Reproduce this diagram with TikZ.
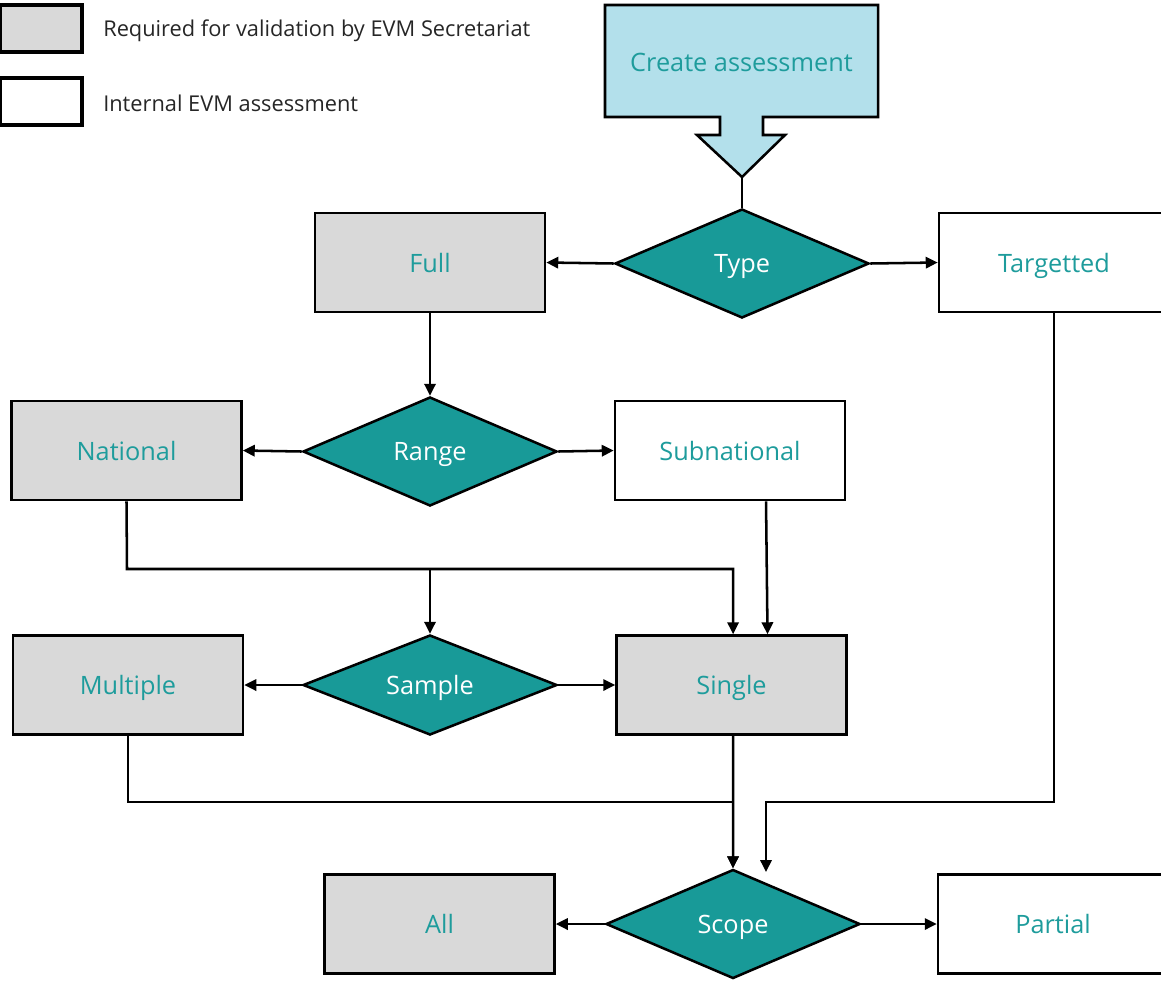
\documentclass[tikz,border=0pt]{standalone}
\usepackage{fontspec}
\setmainfont{Open Sans}
\usepackage{tikz}
\usetikzlibrary{positioning,arrows.meta,shapes.geometric,calc}
\definecolor{evmteal}{HTML}{189A98}
\definecolor{evmtext}{HTML}{1E9C9C}
\definecolor{evmgray}{HTML}{D9D9D9}
\definecolor{evmblue}{HTML}{B3E0EB}

\begin{document}
\begin{tikzpicture}[
    x=0.025cm, y=-0.025cm,
    >={Triangle[length=8.5pt,width=8pt]},
    box/.style={draw, line width=1.8pt, minimum width=5.75cm,
                minimum height=2.475cm, inner sep=0pt, text=evmtext,
                text depth=0pt, font=\fontsize{18}{21}\selectfont},
    reqbox/.style={box, fill=evmgray},
    intbox/.style={box, fill=white},
    dbox/.style={diamond, draw, line width=1.8pt, fill=evmteal, aspect=2.3,
                 inner sep=0pt, minimum width=6.35cm, minimum height=2.725cm,
                 text=white, text depth=0pt, font=\fontsize{18}{21}\selectfont},
    legbox/.style={draw, line width=2.2pt, minimum width=2.05cm,
                   minimum height=1.175cm, inner sep=0pt},
    legtext/.style={anchor=west, inner sep=0pt,
                    font=\fontsize{15.5}{18}\selectfont, text=black!85},
    arrow/.style={->, line width=1.8pt},
    link/.style={line width=1.8pt},
]
\clip (0,0) rectangle (1161,980);

% Legend
\node[legbox, fill=evmgray] (legreq) at (41,28.5) {};
\node[legtext] (legreqtext) at (103,31) {Required for validation by EVM Secretariat};
\node[legbox, fill=white] (legint) at (41,101.5) {};
\node[legtext] (leginttext) at (103,103) {Internal EVM assessment};

% Start callout
\draw[line width=1.8pt, fill=evmblue]
    (605,5) -- (878,5) -- (878,117) -- (763,117) -- (763,135) -- (785,135)
    -- (742,177) -- (697,135) -- (720,135) -- (720,117) -- (605,117) -- cycle;
\node[text=evmtext, font=\fontsize{18}{21}\selectfont] (create)
    at (741.5,62) {Create assessment};
\coordinate (createtip) at (742,177);

% Decisions
\node[dbox] (type) at (742,263.5) {Type};
\node[dbox] (range) at (430,451.5) {Range};
\node[dbox, minimum height=2.5cm] (sample) at (430,685) {Sample};
\node[dbox] (scope) at (733,924) {Scope};

% Outcomes
\node[reqbox] (full) at (430,262.5) {Full};
\node[intbox] (targetted) at (1054,262.5) {Targetted};
\node[reqbox] (national) at (126.5,450.5) {National};
\node[intbox] (subnational) at (730,450.5) {Subnational};
\node[reqbox] (multiple) at (128,685) {Multiple};
\node[reqbox] (single) at (731.5,685) {Single};
\node[reqbox] (all) at (439.5,924) {All};
\node[intbox] (partial) at (1053,924) {Partial};

% Connectors
\draw[link] (createtip) -- (type.north);
\draw[arrow] (type.west) -- (full.east);
\draw[arrow] (type.east) -- (targetted.west);
\draw[arrow] (full.south) -- (range.north);
\draw[arrow] (range.west) -- (national.east);
\draw[arrow] (range.east) -- (subnational.west);

\coordinate (natbend) at (127,569);
\draw[arrow] (national.south) -- (natbend) -| ([xshift=0.04cm]single.north);
\draw[arrow] (natbend -| sample.north) -- (sample.north);
\draw[arrow] ([xshift=0.9cm]subnational.south) -- ([xshift=0.9cm]single.north);

\draw[arrow] (sample.west) -- (multiple.east);
\draw[arrow] (sample.east) -- (single.west);

\coordinate (mulbend) at (128,802);
\draw[arrow] (multiple.south) -- (mulbend) -| (scope.north);
\draw[arrow] ([xshift=0.04cm]single.south) -- (scope.north);
\coordinate (tgtbend) at (1054,802);
\coordinate (tgtend) at (766,872);
\draw[arrow] (targetted.south) -- (tgtbend) -| (tgtend);

\draw[arrow] (scope.west) -- (all.east);
\draw[arrow] (scope.east) -- (partial.west);
\end{tikzpicture}
\end{document}
